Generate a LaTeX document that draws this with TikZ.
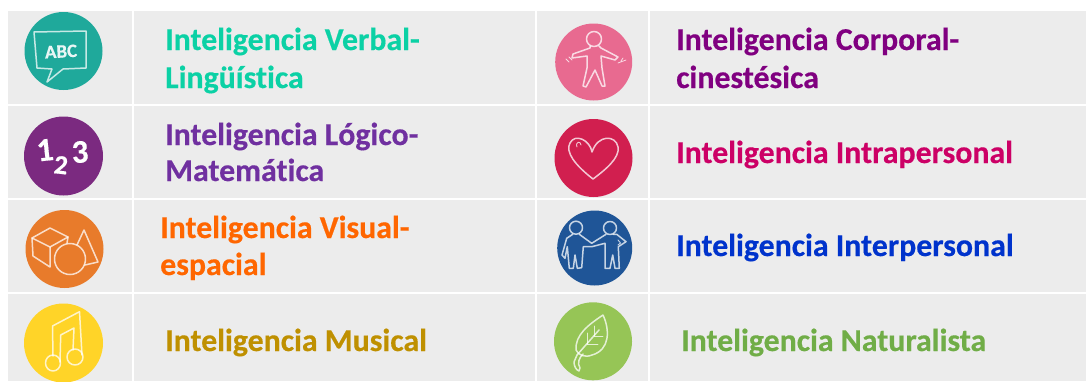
\documentclass[tikz,border=0pt]{standalone}
\usepackage{fontspec}
\setmainfont{Carlito}[Ligatures=NoCommon,BoldFeatures={FakeBold=0.4}]
\definecolor{cellbg}{HTML}{ECECEC}
\definecolor{cteal}{HTML}{1FA99B}
\definecolor{cpurple}{HTML}{7B2A80}
\definecolor{corange}{HTML}{E87B2B}
\definecolor{cyellow}{HTML}{FFD428}
\definecolor{cpink}{HTML}{E86A90}
\definecolor{ccrimson}{HTML}{D11F4F}
\definecolor{cblue}{HTML}{1F5597}
\definecolor{cgreen}{HTML}{96C556}
\definecolor{tteal}{HTML}{0BD1A5}
\definecolor{tpurple}{HTML}{7030A0}
\definecolor{torange}{HTML}{FF6600}
\definecolor{tgold}{HTML}{BF9000}
\definecolor{tmagenta}{HTML}{800080}
\definecolor{tcrimson}{HTML}{CC0066}
\definecolor{tblue}{HTML}{0033CC}
\definecolor{tgreen}{HTML}{70AD47}
\tikzset{
 x=1pt,y=-1pt,
 cell/.style={fill=cellbg,draw=none},
 disc/.style={circle,draw=none,inner sep=0pt,minimum size=77pt},
 lab/.style={anchor=base west,inner sep=0pt,font=\fontsize{31.85}{32}\selectfont\bfseries},
 pen/.style={draw=white,draw opacity=.75,line width=1.5pt,line cap=round,line join=round,fill=none},
}
\begin{document}
\begin{tikzpicture}
\useasboundingbox (0,0) rectangle (1086,381);
\fill[white] (0,0) rectangle (1086,381);
% cells
\foreach \ya/\yb in {11/104,106/197.5,199.7/291.7,293.7/381}{
 \foreach \xa/\xb in {8/132,134/535,537/648,650/1086}{
  \path[cell] (\xa,\ya) rectangle (\xb,\yb);
 }
}
% discs
\node[disc,fill=cteal,minimum size=78pt] (d1) at (63.5,51) {};
\node[disc,fill=cpurple,minimum size=79pt] (d2) at (63.5,156) {};
\node[disc,fill=corange,minimum size=78pt] (d3) at (64.5,249) {};
\node[disc,fill=cyellow,minimum size=79pt] (d4) at (63.5,343) {};
\node[disc,fill=cpink] (d5) at (593.7,62) {};
\node[disc,fill=ccrimson,minimum size=78pt] (d6) at (593.5,158) {};
\node[disc,fill=cblue,minimum size=75pt] (d7) at (594.7,248) {};
\node[disc,fill=cgreen,minimum size=78pt] (d8) at (593,341.3) {};
% ABC bubble
\draw[pen] (34,32) -- (86,31) -- (86,68) -- (63,69) -- (47,82) -- (52,69) -- (37,68) -- cycle;
\node[inner sep=0pt,text=white,text opacity=.9,font=\fontsize{19}{19}\selectfont\bfseries,rotate=3] (abc) at (61,51.5) {ABC};
% 123
\node[inner sep=0pt,text=white,font=\fontsize{33}{33}\selectfont\bfseries,rotate=6] (one) at (45,150) {1};
\node[inner sep=0pt,text=white,font=\fontsize{27}{27}\selectfont\bfseries,rotate=-6] (two) at (61,165) {2};
\node[inner sep=0pt,text=white,font=\fontsize{33}{33}\selectfont\bfseries,rotate=4] (three) at (80,152) {3};
% solids
\begin{scope}[shift={(0,190)}]
\draw[pen] (32,48) -- (50,38) -- (68,47) -- (50,57) -- cycle;
\draw[pen] (32,48) -- (33,66) -- (50,77) -- (50,57);
\draw[pen] (68,47) -- (67,53);
\draw[pen] (77,55) -- (84,40) -- (98,72) -- (85,75);
\draw[pen] (70,69) circle[radius=15.5];
\end{scope}
% notes
\draw[pen] (53,356) -- (52.5,326) -- (79.5,311.7) -- (82,355);
\draw[pen] (60,362) -- (60.7,335) -- (74,328) -- (73,350);
\draw[pen] (53,363) ellipse[x radius=7.5,y radius=8];
\draw[pen] (75,357) ellipse[x radius=8,y radius=8];
% body
\draw[pen] (594,39) circle[radius=7.5];
\draw[pen] (590,46) -- (590,48) -- (573,54) -- (572,58) -- (587,56) -- (587,68) -- (583,86) -- (586,87) -- (595,70) -- (602,86) -- (605,86) -- (602,68) -- (601,56) -- (615,60) -- (618,57) -- (601,48) -- (599,46);
\draw[pen,line width=.8pt] (566,59) -- (569,62) (569,57) -- (572,60) (621,61) -- (623,58) (618,63) -- (626,60);
% heart
\draw[pen] (592,152) .. controls (590,140) and (575,133) .. (570,143) .. controls (565,152) and (575,165) .. (593,179) .. controls (605,170) and (620,158) .. (618,147) .. controls (616,135) and (598,134) .. (592,152);
\draw[pen,line width=.9pt] (577,147) .. controls (575,141) and (581,141) .. (581,145);
% people
\draw[pen] (576,227.7) circle[radius=6.5];
\draw[pen] (610,228) circle[radius=6.5];
\draw[pen] (572.7,234.3) -- (566.7,238.3) -- (562,255) -- (565,258.3) -- (567.3,246.7) -- (569.3,268.3) -- (573.3,268.3) -- (575,255) -- (577.3,268.3) -- (581.7,267.7) -- (583.3,246.7) -- (591.7,246.7) -- (605,243.3) -- (605,268.3) -- (610,268.3) -- (612.7,255) -- (615,268.3) -- (619.3,268.3) -- (618.3,246.7) -- (626,241.7) -- (616.7,234.3) -- (613.3,234.3);
\draw[pen] (606,234.3) -- (591.7,243.3) -- (579.3,234.3);
\draw[pen,line width=.9pt] (618,240) -- (620.5,243) -- (618,245);
% leaf
\begin{scope}[shift={(520,190)}]
\draw[pen] (83,125) .. controls (90,140) and (90,160) .. (72,165) .. controls (65,168) and (58,165) .. (56,160) .. controls (55,145) and (68,135) .. (83,125);
\draw[pen] (79,140) -- (57,165) -- (54,172) .. controls (54,176) and (56,180) .. (59,181) -- (60,178) .. controls (57,173) and (59,168) .. (63,164);
\draw[pen,line width=.8pt] (74,146) -- (74,136) (74,146) -- (83,146) (67,154) -- (67,143) (67,154) -- (78,154);
\end{scope}
% labels
\node[lab,text=tteal] (t1a) at (165,50) {Inteligencia Verbal-};
\node[lab,text=tteal] (t1b) at (165,88) {Lingüística};
\node[lab,text=tpurple] (t2a) at (165,145) {Inteligencia Lógico-};
\node[lab,text=tpurple] (t2b) at (165,181) {Matemática};
\node[lab,text=torange] (t3a) at (160,238) {Inteligencia Visual-};
\node[lab,text=torange] (t3b) at (160,275) {espacial};
\node[lab,text=tgold] (t4) at (165,351) {Inteligencia Musical};
\node[lab,text=tmagenta] (t5a) at (676,50) {Inteligencia Corporal-};
\node[lab,text=tmagenta] (t5b) at (676,88) {cinestésica};
\node[lab,text=tcrimson] (t6) at (676,163) {Inteligencia Intrapersonal};
\node[lab,text=tblue] (t7) at (676,256) {Inteligencia Interpersonal};
\node[lab,text=tgreen] (t8) at (681,351) {Inteligencia Naturalista};
\end{tikzpicture}
\end{document}
